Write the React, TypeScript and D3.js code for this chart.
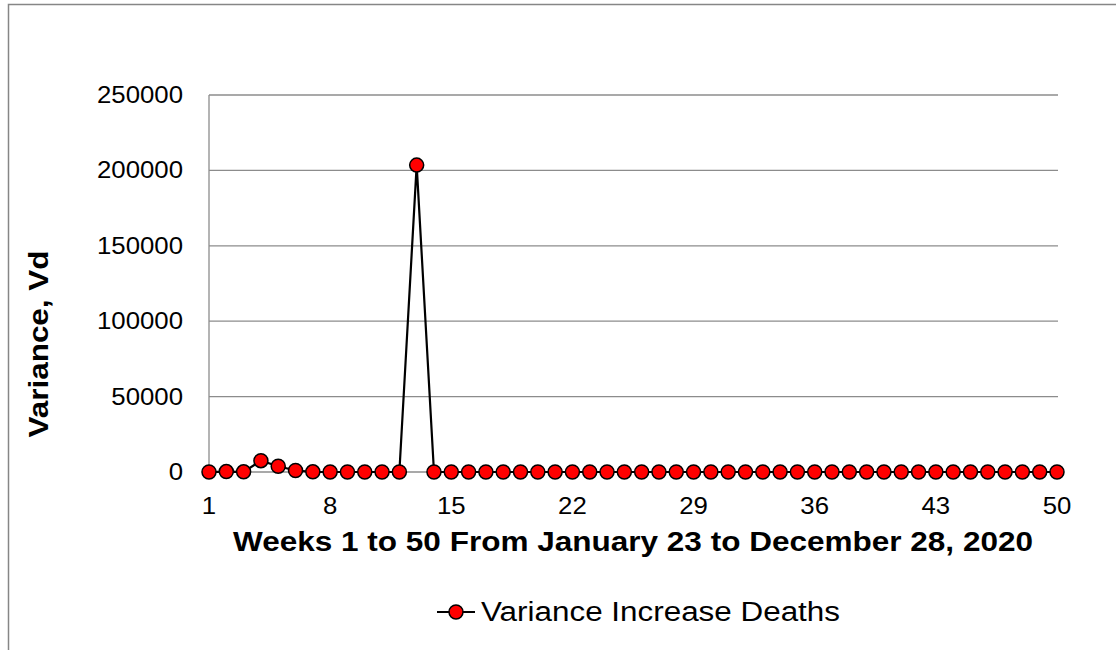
import React, { useRef, useEffect } from 'react';
import * as d3 from 'd3';

const weeks: number[] = d3.range(1, 51);
const variance: number[] = [
  0, 300, 100, 7500, 3800, 1000, 100, 0, 0, 0,
  0, 0, 203500, 0, 0, 0, 0, 0, 0, 0,
  0, 0, 0, 0, 0, 0, 0, 0, 0, 0,
  0, 0, 0, 0, 0, 0, 0, 0, 0, 0,
  0, 0, 0, 0, 0, 0, 0, 0, 0, 0,
];
const xTicks: number[] = [1, 8, 15, 22, 29, 36, 43, 50];
const yTicks: number[] = [0, 50000, 100000, 150000, 200000, 250000];

const seriesName = 'Variance Increase Deaths';
const xTitle = 'Weeks 1 to 50 From January 23 to December 28, 2020';
const yTitle = 'Variance, Vd';

// the source image is a bit wider than tall, so text runs stretched
const STRETCH = 1.12;

function stretch(sel: d3.Selection<SVGTextElement, any, any, any>, factor = STRETCH) {
  sel.each(function () {
    const len = this.getComputedTextLength();
    d3.select(this)
      .attr('textLength', len * factor)
      .attr('lengthAdjust', 'spacingAndGlyphs');
  });
}

const App: React.FC = () => {
  const svgRef = useRef<SVGSVGElement | null>(null);

  useEffect(() => {
    if (!svgRef.current) return;
    const svg = d3.select(svgRef.current);
    svg.selectAll('*').remove();

    const width = 1116;
    const height = 650;
    const font = '"Liberation Sans", Arial, sans-serif';
    const margin = { top: 95, right: 58, bottom: 178, left: 209 };

    svg.attr('width', width).attr('height', height);

    // chart frame (cropped at right/bottom)
    svg.append('rect')
      .attr('x', 8.5).attr('y', 4.5)
      .attr('width', width + 20).attr('height', height + 20)
      .attr('fill', '#fff')
      .attr('stroke', '#868686')
      .attr('stroke-width', 1.5);

    const x = d3.scaleLinear()
      .domain([1, 50])
      .range([margin.left, width - margin.right - 1]);

    const y = d3.scaleLinear()
      .domain([0, 250000])
      .range([height - margin.bottom, margin.top]);

    // gridlines
    svg.append('g')
      .selectAll('line')
      .data(yTicks)
      .enter()
      .append('line')
      .attr('x1', margin.left)
      .attr('x2', width - margin.right)
      .attr('y1', d => y(d))
      .attr('y2', d => y(d))
      .attr('stroke', '#8c8c8c')
      .attr('stroke-width', 1.3);

    // left axis line
    svg.append('line')
      .attr('x1', margin.left).attr('x2', margin.left)
      .attr('y1', y(250000)).attr('y2', y(0))
      .attr('stroke', '#8c8c8c')
      .attr('stroke-width', 1.3);

    // y tick labels
    const yl = svg.append('g')
      .selectAll('text')
      .data(yTicks)
      .enter()
      .append('text')
      .attr('x', margin.left - 26)
      .attr('y', d => y(d))
      .attr('dy', '0.35em')
      .attr('text-anchor', 'end')
      .attr('font-family', font)
      .attr('font-size', 23)
      .attr('fill', '#000')
      .text(d => String(d));
    stretch(yl);

    // x tick labels
    const xl = svg.append('g')
      .selectAll('text')
      .data(xTicks)
      .enter()
      .append('text')
      .attr('x', d => x(d))
      .attr('y', 506)
      .attr('dy', '0.35em')
      .attr('text-anchor', 'middle')
      .attr('font-family', font)
      .attr('font-size', 23)
      .attr('fill', '#000')
      .text(d => String(d));
    stretch(xl);

    // line
    const line = d3.line<number>()
      .x((_, i) => x(weeks[i]))
      .y(d => y(d));

    svg.append('path')
      .datum(variance)
      .attr('d', line)
      .attr('fill', 'none')
      .attr('stroke', '#000')
      .attr('stroke-width', 2.2);

    // markers
    svg.append('g')
      .selectAll('circle')
      .data(variance)
      .enter()
      .append('circle')
      .attr('cx', (_, i) => x(weeks[i]))
      .attr('cy', d => y(d))
      .attr('r', 7)
      .attr('fill', '#ff0000')
      .attr('stroke', '#000')
      .attr('stroke-width', 1.5);

    // axis titles
    svg.append('text')
      .attr('x', 633)
      .attr('y', 542)
      .attr('dy', '0.35em')
      .attr('text-anchor', 'middle')
      .attr('font-family', font)
      .attr('font-size', 27)
      .attr('font-weight', 'bold')
      .attr('textLength', 800)
      .attr('lengthAdjust', 'spacingAndGlyphs')
      .text(xTitle);

    svg.append('text')
      .attr('transform', 'translate(38,344) rotate(-90)')
      .attr('dy', '0.35em')
      .attr('text-anchor', 'middle')
      .attr('font-family', font)
      .attr('font-size', 28)
      .attr('font-weight', 'bold')
      .attr('textLength', 187)
      .attr('lengthAdjust', 'spacingAndGlyphs')
      .text(yTitle);

    // legend
    const lg = svg.append('g').attr('transform', 'translate(437,612)');
    lg.append('line')
      .attr('x1', 0).attr('x2', 38)
      .attr('y1', 0).attr('y2', 0)
      .attr('stroke', '#000')
      .attr('stroke-width', 2.2);
    lg.append('circle')
      .attr('cx', 19).attr('cy', 0).attr('r', 7)
      .attr('fill', '#ff0000')
      .attr('stroke', '#000')
      .attr('stroke-width', 1.5);
    lg.append('text')
      .attr('x', 44)
      .attr('y', 0)
      .attr('dy', '0.35em')
      .attr('font-family', font)
      .attr('font-size', 27)
      .attr('fill', '#000')
      .attr('textLength', 359)
      .attr('lengthAdjust', 'spacingAndGlyphs')
      .text(seriesName);
  }, []);

  return (
    <div style={{ position: 'absolute', left: 0, top: 0, width: 1116, height: 650, overflow: 'hidden' }}>
      <svg ref={svgRef} style={{ display: 'block' }} />
    </div>
  );
};

export default App;
